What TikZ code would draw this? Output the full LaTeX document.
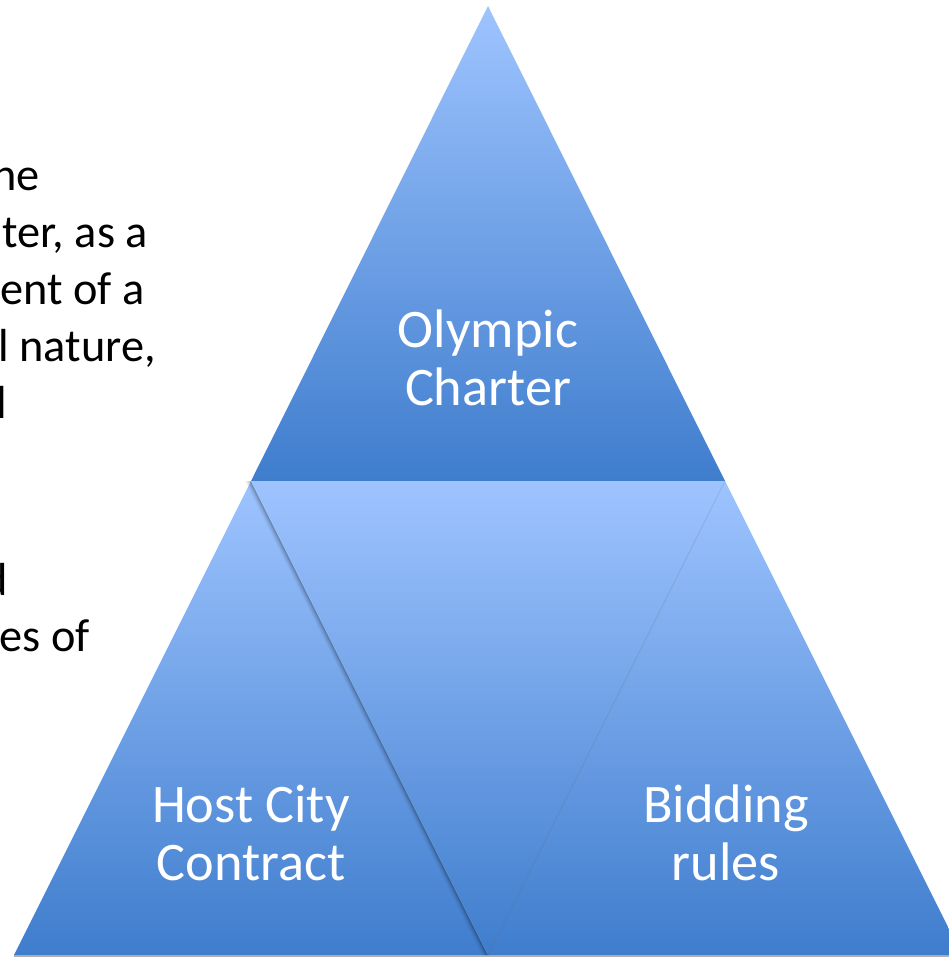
\documentclass[tikz,border=0pt]{standalone}
\usepackage{fontspec}
\setmainfont{Carlito}
\usetikzlibrary{calc}
\definecolor{lightb}{HTML}{9EC4FF}
\definecolor{darkb}{HTML}{3F7DCD}
\tikzset{
  tri/.style={top color=lightb, bottom color=darkb, draw=none},
  bodytext/.style={anchor=base east, inner sep=0pt, text=black, font=\fontsize{46.5}{54}\selectfont},
  label/.style={anchor=base, inner sep=0pt, text=white, font=\fontsize{54.5}{58}\selectfont}
}
\begin{document}
\begin{tikzpicture}[x=1bp,y=-1bp]
\useasboundingbox (0,0) rectangle (949,957);
\clip (0,0) rectangle (949,957);
\fill[white] (0,0) rectangle (949,957);
\coordinate (A) at (488,6);
\coordinate (L) at (251,481);
\coordinate (R) at (725,481);
\coordinate (BL) at (14,955);
\coordinate (BM) at (488,955);
\coordinate (BR) at (962,955);
% bottom shadow line
\fill[gray!60] (14,954) rectangle (949,957);
% left text
\node[bodytext] (t1) at (40,190) {he};
\node[bodytext] (t2) at (148,247) {ter, as a};
\node[bodytext] (t3) at (145,304) {ent of a};
\node[bodytext] (t4) at (156,361) {l nature,};
\node[bodytext] (t5) at (7,418) {l};
\node[bodytext] (t6) at (8,595) {d};
\node[bodytext] (t7) at (90,651) {es of};
% triangles
\path[tri] (A) -- (R) -- (L) -- cycle;
\path[tri] (L) -- (BM) -- (BL) -- cycle;
\path[tri] (R) -- (BR) -- (BM) -- cycle;
% shadow of middle triangle onto left one
\foreach \o/\op in {6/0.04,4.5/0.06,3/0.09,1.5/0.13}{
  \fill[black, opacity=\op] ($(L)+(-\o,0)$) -- ($(BM)+(-\o,0)$) -- (BM) -- (L) -- cycle;
}
\path[tri] (L) -- (R) -- (BM) -- cycle;
\draw[black, opacity=0.12, line width=0.8bp] (R) -- (BM);
% labels
\node[label] (oc1) at (488,347) {Olympic};
\node[label] (oc2) at (488,405) {Charter};
\node[label] (hc1) at (251,822) {Host City};
\node[label] (hc2) at (251,880) {Contract};
\node[label] (br1) at (726,822) {Bidding};
\node[label] (br2) at (726,880) {rules};
\end{tikzpicture}
\end{document}
